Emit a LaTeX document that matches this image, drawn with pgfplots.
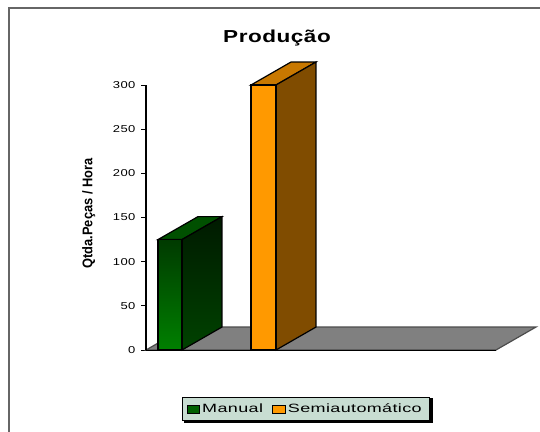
\documentclass[border=0pt]{standalone}
\usepackage{fontspec}
\setmainfont{Liberation Sans}
\newfontfamily\widefont[FakeStretch=1.3,LetterSpace=3]{Liberation Sans}
\newfontfamily\legfont[FakeStretch=1.5,LetterSpace=3]{Liberation Sans}
\newfontfamily\narrowfont[FakeStretch=0.92]{Liberation Sans}
\usepackage{pgfplots}
\pgfplotsset{compat=1.18}
\definecolor{legbg}{HTML}{C8DDD2}
\definecolor{floorc}{HTML}{808080}
\definecolor{laranja}{HTML}{FF9900}
\definecolor{laranjatopo}{HTML}{C87800}
\definecolor{laranjalado}{HTML}{804C00}
\begin{document}
\begin{tikzpicture}[x=1pt,y=1pt]
% page = 540x432 px at 0.75pt per px
\path[use as bounding box] (0,0) rectangle (405,324);
\draw[line width=1.4pt,draw=black!60] (7,-1) -- (7,318) -- (406,318);
\begin{axis}[
  at={(109.5pt,61.5pt)},
  anchor=origin,
  x=0.75pt,
  y=0.6625pt,
  xmin=146, xmax=496,
  ymin=0, ymax=300,
  clip=false,
  axis line style={draw=none},
  axis x line=none,
  axis y line=left,
  axis y line*=left,
  ytick={0,50,...,300},
  tick align=outside,
  major tick length=3.5pt,
  tick style={black, line width=0.7pt},
  yticklabel style={font=\widefont\fontsize{7.5}{9}\selectfont,xshift=-1pt},
  /pgf/number format/assume math mode=true,
  ylabel={\narrowfont\bfseries\fontsize{10.5}{12}\selectfont Qtda.Peças / Hora},
  ylabel style={at={(axis description cs:0,0.5)},anchor=south,yshift=34.5pt,xshift=3pt},
  title={\widefont\bfseries\fontsize{13}{14}\selectfont Produção},
  title style={at={(axis cs:277,300)},anchor=base,yshift=26pt},
  legend columns=2,
  legend style={
    at={(axis cs:305.5,-67)},anchor=center,
    fill=legbg,draw=black,line width=0.6pt,
    font=\legfont\fontsize{9}{11}\selectfont,
    inner xsep=3.5pt,inner ysep=2.5pt,
    /tikz/every even column/.append style={column sep=5pt},
  },
  legend image code/.code={\draw[#1,line width=0.6pt] (0cm,-0.1cm) rectangle (0.32cm,0.1cm);},
]
% chao
\addplot[forget plot,fill=floorc,draw=black!70,line width=0.9pt] coordinates {(146,0) (496,0) (536,26) (186,26)} --cycle;
% Manual
\addplot[forget plot,draw=black,line width=0.9pt,fill={rgb,255:red,0;green,80;blue,0}] coordinates {(158,125) (182,125) (222,151) (198,151)} --cycle;
\addplot[forget plot,draw=black,line width=0.9pt,bottom color={rgb,255:red,0;green,66;blue,0},top color={rgb,255:red,0;green,26;blue,0}] coordinates {(182,0) (222,26) (222,151) (182,125)} --cycle;
\addplot[forget plot,draw=black,line width=0.9pt,bottom color={rgb,255:red,0;green,128;blue,0},top color={rgb,255:red,0;green,58;blue,0}] coordinates {(158,0) (182,0) (182,125) (158,125)} --cycle;
% Semiautomatico
\addplot[forget plot,draw=black,line width=0.9pt,fill=laranjatopo] coordinates {(251,300) (276,300) (316,326) (291,326)} --cycle;
\addplot[forget plot,draw=black,line width=0.9pt,fill=laranjalado] coordinates {(276,0) (316,26) (316,326) (276,300)} --cycle;
\addplot[forget plot,draw=black,line width=0.9pt,fill=laranja] coordinates {(251,0) (276,0) (276,300) (251,300)} --cycle;
% eixo y
\addplot[forget plot,black,line width=0.9pt] coordinates {(146,0) (146,300)};
\addplot[forget plot,black,line width=0.7pt] coordinates {(146,0) (496,0)};
% sombra da legenda
\addplot[forget plot,fill=black,draw=none] coordinates {(184,-54) (433,-54) (433,-83) (184,-83)} --cycle;
\addlegendimage{fill={rgb,255:red,0;green,96;blue,0},draw=black}
\addlegendentry{Manual}
\addlegendimage{fill=laranja,draw=black}
\addlegendentry{Semiautomático}
\end{axis}
\end{tikzpicture}
\end{document}
